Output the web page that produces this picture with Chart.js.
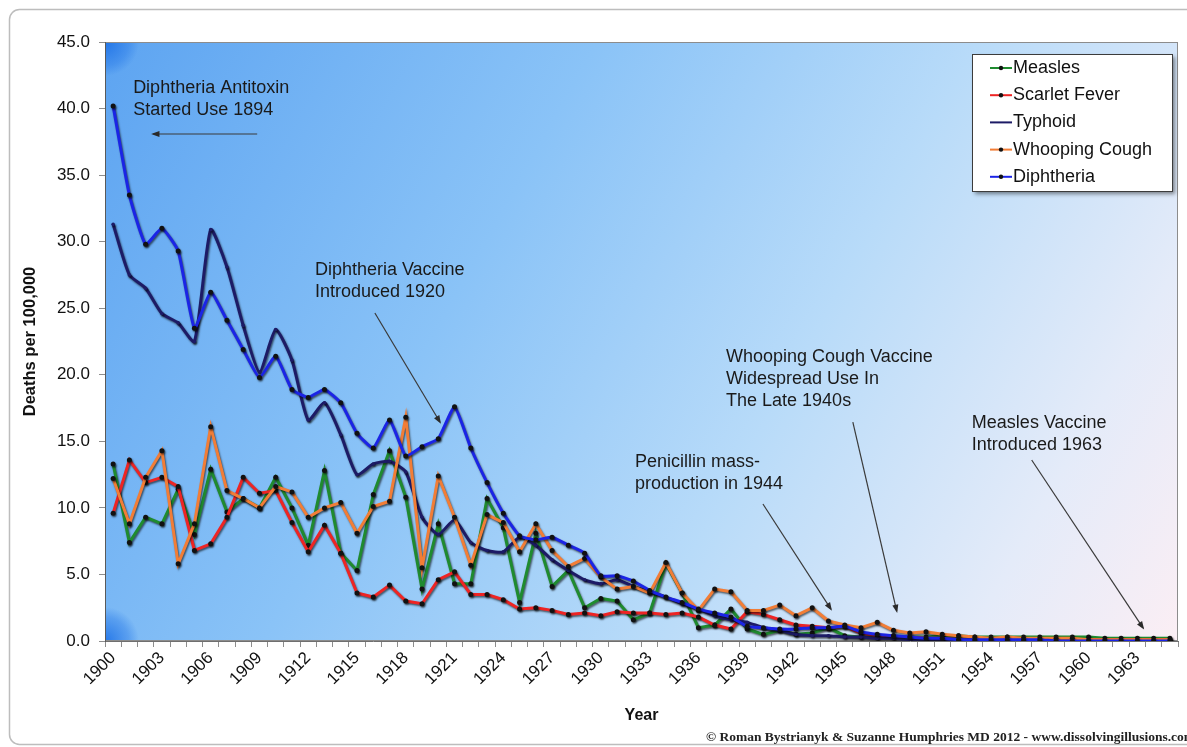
<!DOCTYPE html>
<html>
<head>
<meta charset="utf-8">
<title>Deaths per 100,000 - 1900 to 1965</title>
<script src="https://cdn.jsdelivr.net/npm/chart.js"></script>
<style>
  html, body { margin: 0; padding: 0; background: #fff; }
  #chart { display: block; }
</style>
</head>
<body>
<canvas id="chart" width="1187" height="747"></canvas>
<script>
const years = ['1900','1901','1902','1903','1904','1905','1906','1907','1908','1909',
  '1910','1911','1912','1913','1914','1915','1916','1917','1918','1919',
  '1920','1921','1922','1923','1924','1925','1926','1927','1928','1929',
  '1930','1931','1932','1933','1934','1935','1936','1937','1938','1939',
  '1940','1941','1942','1943','1944','1945','1946','1947','1948','1949',
  '1950','1951','1952','1953','1954','1955','1956','1957','1958','1959',
  '1960','1961','1962','1963','1964','1965'];

const measles = [13.3, 7.4, 9.3, 8.8, 11.4, 8.0, 12.9, 9.7, 10.7, 10.0,
  12.3, 10.0, 7.2, 12.8, 6.6, 5.3, 11.0, 14.3, 10.8, 3.9,
  8.8, 4.3, 4.3, 10.7, 8.5, 2.9, 8.1, 4.1, 5.3, 2.5,
  3.2, 3.0, 1.6, 2.1, 5.8, 3.6, 1.0, 1.2, 2.4, 0.9,
  0.5, 0.8, 0.5, 0.6, 1.0, 0.4, 0.3, 0.3, 0.4, 0.3,
  0.3, 0.4, 0.4, 0.3, 0.3, 0.3, 0.3, 0.3, 0.3, 0.3,
  0.3, 0.2, 0.2, 0.2, 0.2, 0.2];

const scarletFever = [9.6, 13.6, 11.9, 12.3, 11.6, 6.8, 7.3, 9.3, 12.3, 11.1,
  11.3, 8.9, 6.7, 8.7, 6.6, 3.6, 3.3, 4.2, 3.0, 2.8,
  4.6, 5.2, 3.5, 3.5, 3.1, 2.4, 2.5, 2.3, 2.0, 2.1,
  1.9, 2.2, 2.1, 2.1, 2.0, 2.1, 1.8, 1.2, 0.9, 2.2,
  2.0, 1.6, 1.2, 1.1, 1.0, 1.1, 0.6, 0.4, 0.3, 0.3,
  0.2, 0.2, 0.1, 0.1, 0.1, 0.1, 0.1, 0.1, 0.1, 0.1,
  0.1, 0.1, 0.1, 0.1, 0.1, 0.1];

const typhoid = [31.3, 27.5, 26.5, 24.6, 23.9, 22.5, 30.9, 28.1, 23.7, 20.2,
  23.4, 21.1, 16.6, 17.9, 15.5, 12.5, 13.3, 13.5, 12.7, 9.3,
  8.0, 9.1, 7.4, 6.8, 6.7, 7.8, 7.2, 6.1, 5.3, 4.6,
  4.3, 4.6, 4.1, 3.7, 3.3, 2.8, 2.4, 1.9, 1.6, 1.4,
  1.0, 0.8, 0.5, 0.4, 0.4, 0.3, 0.3, 0.2, 0.2, 0.1,
  0.1, 0.1, 0.1, 0.1, 0.1, 0.1, 0.0, 0.0, 0.0, 0.0,
  0.0, 0.0, 0.0, 0.0, 0.0, 0.0];

const whoopingCough = [12.2, 8.8, 12.3, 14.3, 5.8, 8.8, 16.1, 11.3, 10.7, 10.0,
  11.6, 11.2, 9.3, 10.0, 10.4, 8.1, 10.1, 10.5, 16.8, 5.5,
  12.4, 9.3, 5.7, 9.5, 8.9, 6.7, 8.8, 6.8, 5.6, 6.2,
  4.8, 3.9, 4.1, 3.6, 5.9, 3.6, 2.3, 3.9, 3.7, 2.3,
  2.3, 2.7, 1.9, 2.5, 1.5, 1.2, 1.0, 1.4, 0.8, 0.6,
  0.7, 0.5, 0.4, 0.3, 0.2, 0.3, 0.2, 0.2, 0.2, 0.2,
  0.1, 0.1, 0.1, 0.1, 0.1, 0.1];

const diphtheria = [40.2, 33.5, 29.8, 31.0, 29.3, 23.5, 26.2, 24.1, 21.9, 19.8,
  21.4, 18.9, 18.3, 18.9, 17.9, 15.6, 14.5, 16.6, 13.9, 14.6,
  15.2, 17.6, 14.5, 11.9, 9.6, 7.9, 7.6, 7.8, 7.2, 6.6,
  4.9, 4.9, 4.5, 3.8, 3.3, 2.9, 2.4, 2.1, 1.8, 1.1,
  1.0, 0.9, 0.9, 1.0, 1.0, 1.1, 0.7, 0.5, 0.4, 0.3,
  0.2, 0.2, 0.1, 0.1, 0.1, 0.1, 0.1, 0.1, 0.0, 0.0,
  0.0, 0.0, 0.0, 0.0, 0.0, 0.0];

// callouts: text anchored at [category index, value], arrow from -> to in the same units
const notes = [
  { lines: ['Diphtheria Antitoxin', 'Started Use 1894'], at: [1.23, 41.55], from: [8.86, 38.09], to: [2.46, 38.09] },
  { lines: ['Diphtheria Vaccine', 'Introduced 1920'], at: [12.41, 27.87], from: [16.1, 24.64], to: [20.1, 16.45] },
  { lines: ['Whooping Cough Vaccine', 'Widespread Use In', 'The Late 1940s'], at: [37.7, 21.34], from: [45.5, 16.45], to: [48.2, 2.25] },
  { lines: ['Penicillin mass-', 'production in 1944'], at: [32.1, 13.45], from: [39.97, 10.29], to: [44.15, 2.4] },
  { lines: ['Measles Vaccine', 'Introduced 1963'], at: [52.82, 16.38], from: [56.5, 13.6], to: [63.35, 0.98] }
];

const FONT = "'Liberation Sans', Arial, sans-serif";
Chart.defaults.font.family = FONT;
Chart.defaults.color = '#111';

function series(label, data, color, order, extra) {
  return Object.assign({
    label: label,
    data: data,
    borderColor: color,
    backgroundColor: color,
    borderWidth: 3,
    pointRadius: 2.5,
    pointBackgroundColor: '#111',
    pointBorderWidth: 0,
    tension: 0,
    order: order
  }, extra || {});
}

const plotBackground = {
  id: 'plotBackground',
  beforeDraw(chart) {
    const {ctx, chartArea: a, width, height} = chart;
    ctx.save();
    // outer frame
    ctx.beginPath();
    ctx.roundRect(9.5, 9.5, width + 20, height - 12, 10);
    ctx.strokeStyle = '#bdbdbd';
    ctx.lineWidth = 1.5;
    ctx.stroke();
    // plot area fill
    const g = ctx.createLinearGradient(a.left, a.top, a.right, a.bottom);
    g.addColorStop(0, '#5da4f1');
    g.addColorStop(0.35, '#8ac3f7');
    g.addColorStop(0.62, '#b8dbf9');
    g.addColorStop(0.85, '#e4ebf9');
    g.addColorStop(1, '#fbeef4');
    ctx.fillStyle = g;
    ctx.fillRect(a.left, a.top, a.width, a.height);
    [[a.left, a.top], [a.left, a.bottom]].forEach(([cx, cy]) => {
      const r = ctx.createRadialGradient(cx, cy, 0, cx, cy, 34);
      r.addColorStop(0, 'rgba(25,110,230,0.85)');
      r.addColorStop(0.7, 'rgba(25,110,230,0.35)');
      r.addColorStop(1, 'rgba(25,110,230,0)');
      ctx.fillStyle = r;
      ctx.fillRect(a.left, a.top, a.width, a.height);
    });
    ctx.strokeStyle = '#8c8c8c';
    ctx.lineWidth = 1;
    ctx.strokeRect(a.left + 0.5, a.top + 0.5, a.width - 1, a.height - 1);
    ctx.restore();
  }
};

const lineShadow = {
  id: 'lineShadow',
  beforeDatasetDraw(chart) {
    const ctx = chart.ctx;
    ctx.save();
    ctx.shadowColor = 'rgba(0,0,0,0.6)';
    ctx.shadowBlur = 2;
    ctx.shadowOffsetX = 1;
    ctx.shadowOffsetY = 1.5;
  },
  afterDatasetDraw(chart) {
    chart.ctx.restore();
  }
};

function arrow(ctx, x1, y1, x2, y2) {
  const ang = Math.atan2(y2 - y1, x2 - x1);
  ctx.beginPath();
  ctx.moveTo(x1, y1);
  ctx.lineTo(x2, y2);
  ctx.stroke();
  ctx.beginPath();
  ctx.moveTo(x2 + Math.cos(ang) * 2, y2 + Math.sin(ang) * 2);
  ctx.lineTo(x2 - Math.cos(ang - 0.45) * 7, y2 - Math.sin(ang - 0.45) * 7);
  ctx.lineTo(x2 - Math.cos(ang + 0.45) * 7, y2 - Math.sin(ang + 0.45) * 7);
  ctx.closePath();
  ctx.fill();
}

const callouts = {
  id: 'callouts',
  afterDatasetsDraw(chart) {
    const {ctx, scales: {x, y}} = chart;
    ctx.save();
    ctx.font = '18px ' + FONT;
    ctx.textBaseline = 'middle';
    ctx.fillStyle = '#1a1a1a';
    ctx.strokeStyle = '#3a3a3a';
    ctx.lineWidth = 1.2;
    notes.forEach(n => {
      const tx = x.getPixelForValue(n.at[0]);
      const ty = y.getPixelForValue(n.at[1]);
      n.lines.forEach((t, i) => ctx.fillText(t, tx, ty + i * 22));
      ctx.fillStyle = '#2a2a2a';
      arrow(ctx, x.getPixelForValue(n.from[0]), y.getPixelForValue(n.from[1]),
        x.getPixelForValue(n.to[0]), y.getPixelForValue(n.to[1]));
      ctx.fillStyle = '#1a1a1a';
    });
    ctx.restore();
  }
};

const boxLegend = {
  id: 'boxLegend',
  afterDraw(chart) {
    const {ctx, chartArea: a} = chart;
    const bx = a.right - 206, by = a.top + 12, bw = 200, bh = 137;
    ctx.save();
    ctx.shadowColor = 'rgba(0,0,0,0.45)';
    ctx.shadowBlur = 4;
    ctx.shadowOffsetX = 3;
    ctx.shadowOffsetY = 3;
    ctx.fillStyle = '#fff';
    ctx.fillRect(bx, by, bw, bh);
    ctx.shadowColor = 'transparent';
    ctx.strokeStyle = '#3c3c3c';
    ctx.lineWidth = 1;
    ctx.strokeRect(bx + 0.5, by + 0.5, bw, bh);
    ctx.font = '18px ' + FONT;
    ctx.textBaseline = 'middle';
    chart.data.datasets.forEach((ds, i) => {
      const cy = by + 14 + i * 27.2;
      ctx.strokeStyle = ds.borderColor;
      ctx.lineWidth = 2;
      ctx.beginPath();
      ctx.moveTo(bx + 18, cy);
      ctx.lineTo(bx + 40, cy);
      ctx.stroke();
      if (ds.pointBackgroundColor === '#111') {
        ctx.fillStyle = '#111';
        ctx.beginPath();
        ctx.arc(bx + 29, cy, 2.2, 0, Math.PI * 2);
        ctx.fill();
      }
      ctx.fillStyle = '#111';
      ctx.fillText(ds.label, bx + 41, cy);
    });
    ctx.restore();
  }
};

const credit = {
  id: 'credit',
  afterDraw(chart) {
    const ctx = chart.ctx;
    ctx.save();
    ctx.font = "bold 13.5px 'Liberation Serif', 'Times New Roman', serif";
    ctx.fillStyle = '#222';
    ctx.textBaseline = 'middle';
    ctx.fillText('\u00A9 Roman Bystrianyk & Suzanne Humphries MD 2012 - www.dissolvingillusions.com', 706, 738);
    ctx.restore();
  }
};

new Chart(document.getElementById('chart'), {
  type: 'line',
  data: {
    labels: years,
    datasets: [
      series('Measles', measles, '#1f8b2f', 5),
      series('Scarlet Fever', scarletFever, '#ee2424', 4),
      series('Typhoid', typhoid, '#1d1b66', 3, { pointRadius: 1.8, pointBackgroundColor: '#1d1b66', tension: 0.2 }),
      series('Whooping Cough', whoopingCough, '#f27d36', 2),
      series('Diphtheria', diphtheria, '#1b24e6', 1, { tension: 0.15 })
    ]
  },
  options: {
    responsive: false,
    animation: false,
    devicePixelRatio: 1,
    layout: { padding: { top: 42, right: 9, bottom: 0, left: 0 } },
    plugins: { legend: { display: false }, tooltip: { enabled: false } },
    scales: {
      x: {
        offset: true,
        grid: { offset: true, drawOnChartArea: false, tickLength: 6, color: '#8d8d8d' },
        border: { color: '#6f6f6f' },
        ticks: {
          autoSkip: false, minRotation: 45, maxRotation: 45, padding: 1,
          font: { size: 17 }, color: '#111',
          callback: function (v, i) { return i % 3 === 0 ? this.getLabelForValue(v) : ''; }
        },
        title: { display: true, text: 'Year', font: { size: 16, weight: 'bold' }, padding: { top: 0, bottom: 22 }, color: '#111' },
        afterFit: s => { s.height = 106; }
      },
      y: {
        min: 0, max: 45,
        grid: { drawOnChartArea: false, tickLength: 6, color: '#8d8d8d' },
        border: { color: '#5a5a5a' },
        ticks: { stepSize: 5, padding: 9, font: { size: 17 }, color: '#111', callback: v => v.toFixed(1) },
        title: { display: true, text: 'Deaths per 100,000', font: { size: 16.5, weight: 'bold' }, padding: { top: 21, bottom: 0 }, color: '#111' },
        afterFit: s => { s.width = 105; }
      }
    }
  },
  plugins: [plotBackground, lineShadow, callouts, boxLegend, credit]
});
</script>
</body>
</html>
